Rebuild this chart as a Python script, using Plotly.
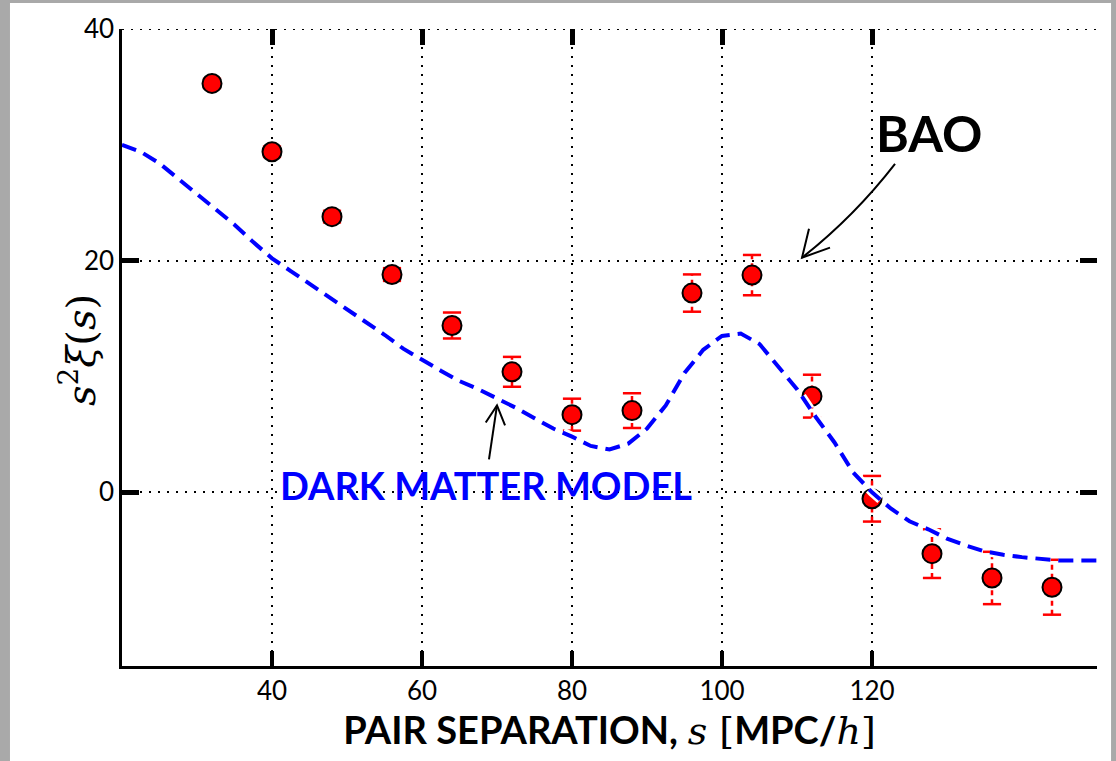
import plotly.graph_objects as go

# Measured redshift-space correlation function, s^2 xi(s)
sep = [32, 40, 48, 56, 64, 72, 80, 88, 96, 104, 112, 120, 128, 136, 144]
s2xi = [35.3, 29.4, 23.8, 18.8, 14.4, 10.4, 6.7, 7.05, 17.2, 18.75, 8.3, -0.56, -5.3, -7.4, -8.2]
s2xi_err = [0.4, 0.45, 0.5, 0.55, 1.12, 1.29, 1.38, 1.5, 1.61, 1.74, 1.85, 1.97, 2.1, 2.26, 2.37]

# Dark matter model curve
model_s = [20, 22.5, 25, 27.5, 30, 32.5, 35, 37.5, 40, 42.5, 45, 47.5, 50, 52.5, 55,
           57.5, 60, 62.5, 65, 67.5, 70, 72.5, 75, 77.5, 80, 82.5, 85, 87.5, 90, 92.5,
           95, 97.5, 100, 102.5, 105, 107.5, 110, 112.5, 115, 117.5, 120, 122.5, 125,
           127.5, 130, 132.5, 135, 137.5, 140, 145, 150]
model_xi = [30.0, 29.4, 28.4, 27.1, 25.8, 24.5, 23.1, 21.6, 20.2, 19.1, 18.0, 16.9, 15.8,
            14.8, 13.6, 12.4, 11.4, 10.5, 9.6, 8.9, 8.1, 7.3, 6.4, 5.5, 4.8, 4.0, 3.7,
            4.2, 5.5, 7.5, 10.3, 12.3, 13.5, 13.7, 12.8, 10.9, 8.9, 6.5, 4.3, 1.7, 0.0,
            -1.4, -2.5, -3.2, -4.0, -4.6, -5.1, -5.4, -5.6, -5.9, -5.9]

x_ticks = [40, 60, 80, 100, 120]
y_ticks = [0, 20, 40]
x_range = [20, 150]
y_range = [-15, 40]

HAND = "Lato, 'Open Sans', sans-serif"
MATH = "'DejaVu Serif', serif"

fig = go.Figure()

# page frame (white sheet on grey)
fig.add_shape(type="rect", xref="paper", yref="paper", x0=-0.1149, x1=1.0144,
              y0=-0.16, y1=1.0408, fillcolor="white", line=dict(width=0), layer="below")

# dotted grid line along the top edge
fig.add_shape(type="line", xref="paper", yref="y", x0=0, x1=1,
              y0=y_ticks[-1], y1=y_ticks[-1],
              line=dict(color="black", width=2, dash="2px,7px"), layer="below")

# error bars: dashed stems plus caps
stem_x, stem_y = [], []
for s, v, e in zip(sep, s2xi, s2xi_err):
    stem_x += [s, s, None]
    stem_y += [v - e, v + e, None]
fig.add_trace(go.Scatter(x=stem_x, y=stem_y, mode="lines",
                         line=dict(color="#ff0000", width=2.5, dash="5px,4px"),
                         hoverinfo="skip", showlegend=False))
fig.add_trace(go.Scatter(x=sep + sep,
                         y=[v - e for v, e in zip(s2xi, s2xi_err)] +
                           [v + e for v, e in zip(s2xi, s2xi_err)],
                         mode="markers",
                         marker=dict(symbol="line-ew", size=13,
                                     line=dict(color="#ff0000", width=2.5)),
                         hoverinfo="skip", showlegend=False))

# data points
fig.add_trace(go.Scatter(x=sep, y=s2xi, mode="markers",
                         marker=dict(color="#ff0000", size=19,
                                     line=dict(color="black", width=2)),
                         showlegend=False))

# model curve with a white halo underneath
fig.add_trace(go.Scatter(x=model_s, y=model_xi, mode="lines",
                         line=dict(color="white", width=9, dash="15px,8px"),
                         hoverinfo="skip", showlegend=False))
fig.add_trace(go.Scatter(x=model_s, y=model_xi, mode="lines",
                         line=dict(color="#0000ff", width=4, dash="15px,8px"),
                         showlegend=False))

# empty trace so the mirrored tick axes get drawn
fig.add_trace(go.Scatter(x=[], y=[], xaxis="x2", yaxis="y2", showlegend=False))

# annotation arrows
arrow_line = dict(color="black", width=2)
fig.add_shape(type="path", xref="x", yref="y",
              path="M 123.07,28.36 Q 117.6,23.79 110.67,20.26", line=arrow_line)
fig.add_shape(type="path", xref="x", yref="y",
              path="M 111.6,22.76 L 110.67,20.26 L 114.4,21.12", line=arrow_line)
fig.add_shape(type="path", xref="x", yref="y",
              path="M 68.93,2.84 L 70.0,7.5", line=arrow_line)
fig.add_shape(type="path", xref="x", yref="y",
              path="M 68.5,6.03 L 70.0,7.5 L 71.07,5.78", line=arrow_line)

fig.add_annotation(x=127.6, y=31.0, xref="x", yref="y", text="<b>BAO</b>", showarrow=False,
                   font=dict(family=HAND, size=50, color="black"))
fig.add_annotation(x=68.5, y=0.6, xref="x", yref="y", text="<b>DARK MATTER MODEL</b>",
                   showarrow=False, font=dict(family=HAND, size=38, color="#0000ff"))

# y-axis title
fig.add_annotation(x=-0.0738, y=0.496, xref="paper", yref="paper",
                   text="<i>s</i><sup>2</sup><i>ξ</i>(<i>s</i>)", textangle=-90,
                   showarrow=False, font=dict(family=MATH, size=40, color="black"))

fig.update_layout(
    width=1116, height=761,
    margin=dict(l=122, r=19, t=29, b=95),
    paper_bgcolor="#a9a9a9",
    plot_bgcolor="rgba(0,0,0,0)",
    font=dict(family=HAND, color="black"),
    xaxis=dict(range=x_range, tickvals=x_ticks, ticktext=[str(v) for v in x_ticks],
               ticks="inside", ticklen=15, tickwidth=4, tickcolor="black",
               showline=True, linecolor="black", linewidth=3,
               showgrid=True, gridcolor="black", gridwidth=2, griddash="2px,7px",
               zeroline=False, tickfont=dict(size=26),
               title=dict(text="<b>PAIR SEPARATION,</b> <span style=\"font-family:'DejaVu Serif'\"><i>s</i> [</span><b>MPC/</b><span style=\"font-family:'DejaVu Serif'\"><i>h</i>]</span>",
                          font=dict(size=38), standoff=10)),
    yaxis=dict(range=y_range, tickvals=y_ticks, ticktext=[str(v) for v in y_ticks],
               ticks="inside", ticklen=17, tickwidth=5, tickcolor="black",
               showline=True, linecolor="black", linewidth=2.5,
               showgrid=True, gridcolor="black", gridwidth=2, griddash="2px,7px",
               zeroline=False, tickfont=dict(size=26)),
    xaxis2=dict(range=x_range, overlaying="x", side="top", tickvals=x_ticks,
                ticks="inside", ticklen=16, tickwidth=5, tickcolor="black",
                showticklabels=False, showline=False, showgrid=False, zeroline=False),
    yaxis2=dict(range=y_range, overlaying="y", side="right", tickvals=y_ticks,
                ticks="inside", ticklen=17, tickwidth=5, tickcolor="black",
                showticklabels=False, showline=False, showgrid=False, zeroline=False),
)

fig.write_html("out.html")
